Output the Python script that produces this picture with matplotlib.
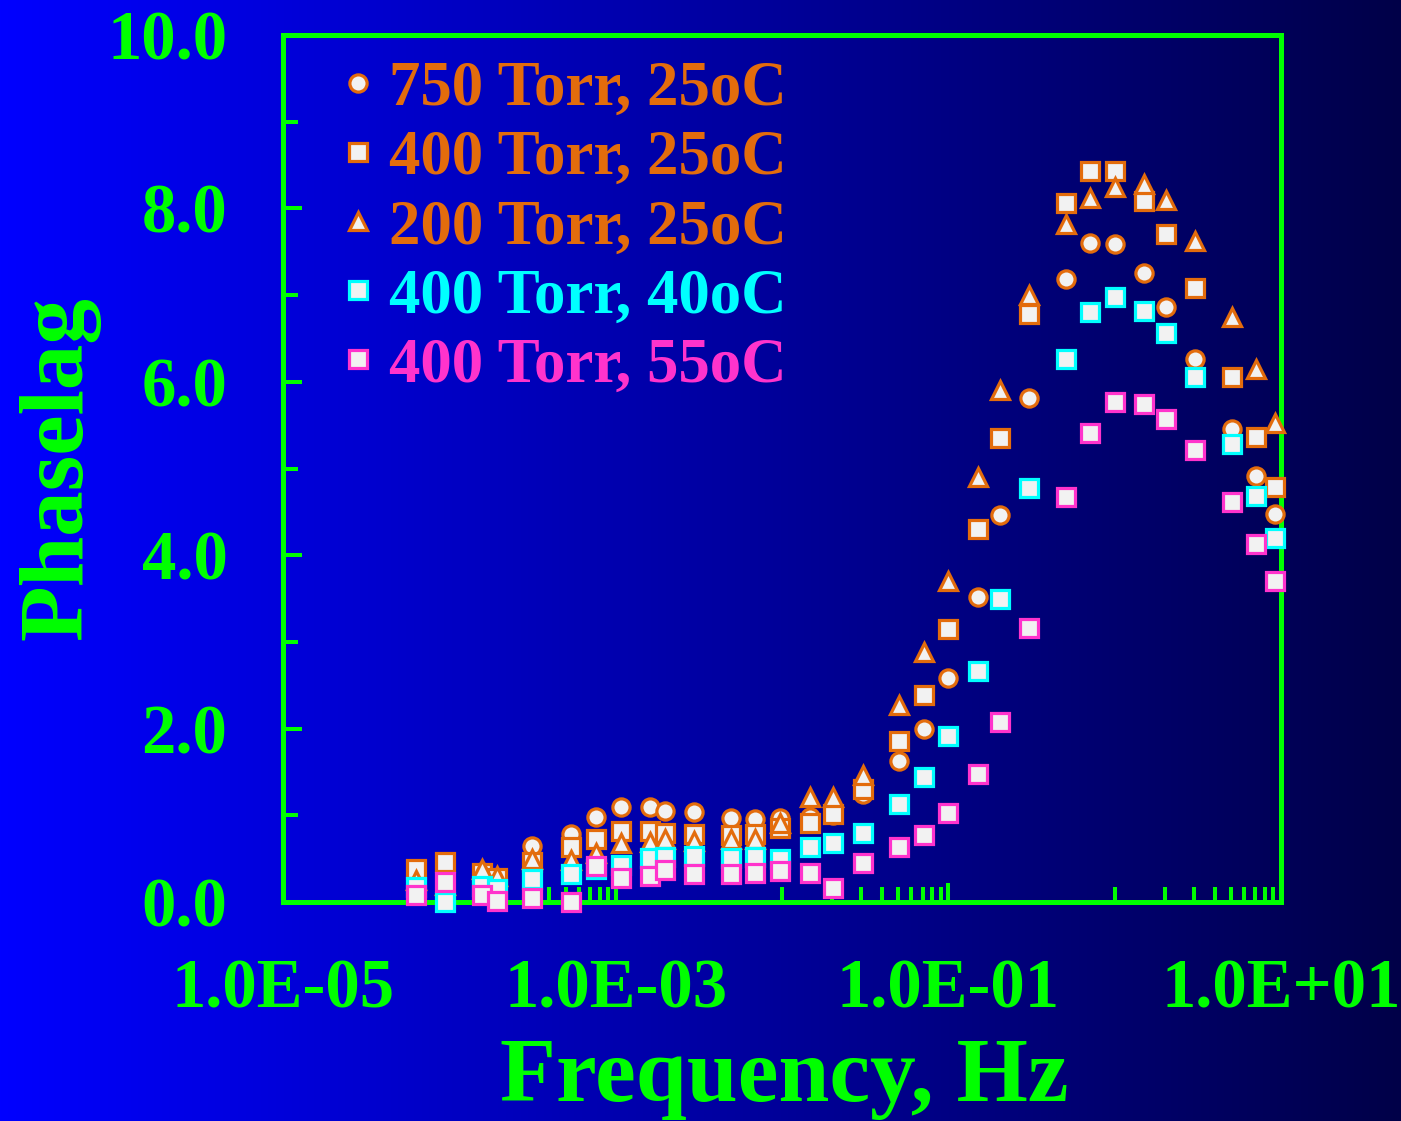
import numpy as np
import matplotlib
matplotlib.use("Agg")
import matplotlib.pyplot as plt
from matplotlib.ticker import FixedLocator, FixedFormatter, NullFormatter

# Frequency sweep (Hz)
freq_hz = [6.3e-5, 9.4e-5, 1.57e-4, 1.94e-4, 3.13e-4, 5.4e-4, 7.6e-4, 1.07e-3,
           1.61e-3, 1.98e-3, 2.96e-3, 4.93e-3, 6.9e-3, 9.7e-3, 1.47e-2, 2.03e-2,
           3.05e-2, 5.07e-2, 7.1e-2, 0.10, 0.15, 0.205, 0.305, 0.508,
           0.71, 1.0, 1.5, 2.04, 3.04, 5.08, 7.08, 9.2]

# Phase lag (degrees) for each pressure / temperature condition
phase_750_25 = [0.30, 0.25, 0.35, 0.27, 0.65, 0.79, 0.98, 1.10, 1.09, 1.05, 1.04,
                0.97, 0.96, 0.97, 0.98, 1.00, 1.24, 1.63, 2.00, 2.58, 3.52, 4.46,
                5.81, 7.18, 7.60, 7.59, 7.25, 6.86, 6.26, 5.45, 4.91, 4.48]
phase_400_25 = [0.38, 0.46, 0.33, 0.28, 0.46, 0.64, 0.73, 0.82, 0.82, 0.80, 0.79,
                0.77, 0.79, 0.85, 0.91, 1.02, 1.30, 1.86, 2.39, 3.15, 4.30, 5.35,
                6.78, 8.06, 8.43, 8.43, 8.09, 7.70, 7.08, 6.06, 5.36, 4.79]
phase_200_25 = [0.25, 0.20, 0.38, 0.30, 0.50, 0.48, 0.57, 0.68, 0.69, 0.73, 0.70,
                0.73, 0.73, 0.91, 1.21, 1.21, 1.47, 2.27, 2.88, 3.70, 4.90, 5.91,
                7.00, 7.82, 8.12, 8.25, 8.28, 8.10, 7.62, 6.75, 6.15, 5.53]
phase_400_40 = [0.17, 0.00, 0.18, 0.15, 0.27, 0.32, 0.38, 0.43, 0.51, 0.52, 0.53,
                0.51, 0.52, 0.50, 0.63, 0.68, 0.80, 1.13, 1.44, 1.91, 2.67, 3.50,
                4.77, 6.26, 6.81, 6.98, 6.82, 6.56, 6.06, 5.28, 4.68, 4.20]
phase_400_55 = [0.08, 0.23, 0.08, 0.01, 0.05, 0.00, 0.42, 0.28, 0.30, 0.37, 0.32,
                0.32, 0.33, 0.36, 0.33, 0.16, 0.45, 0.63, 0.77, 1.03, 1.48, 2.08,
                3.16, 4.67, 5.41, 5.77, 5.74, 5.57, 5.21, 4.61, 4.13, 3.70]

series_labels = ["750 Torr, 25oC", "400 Torr, 25oC", "200 Torr, 25oC",
                 "400 Torr, 40oC", "400 Torr, 55oC"]

x_major = [1e-5, 1e-3, 1e-1, 1e1]
x_major_labels = ["1.0E-05", "1.0E-03", "1.0E-01", "1.0E+01"]
y_major = [0, 2, 4, 6, 8, 10]
y_minor = [1, 3, 5, 7, 9]

GREEN = "#00FF00"
ORANGE = "#E36C0C"
CYAN = "#00FFFF"
PINK = "#FF33CC"
FACE = "#F2F2F2"

plt.rcParams["font.family"] = ["Liberation Serif", "DejaVu Serif"]
plt.rcParams["font.weight"] = "bold"

W, H = 1401, 1121
fig = plt.figure(figsize=(W / 100, H / 100), dpi=100)

# horizontal blue gradient backdrop
bg = fig.add_axes([0, 0, 1, 1], zorder=-10)
t = np.linspace(0, 1, 700)
grad = np.zeros((1, t.size, 3))
grad[..., 2] = (255 + (72 - 255) * t) / 255.0
bg.imshow(grad, aspect="auto", extent=[0, 1, 0, 1])
bg.set_axis_off()

ax = fig.add_axes([283 / W, 1 - 902 / H, 998 / W, 867 / H])
ax.set_facecolor("none")
ax.set_xscale("log")
ax.set_xlim(1e-5, 1e1)
ax.set_ylim(0, 10)

styles = [
    (phase_750_25, "o", ORANGE),
    (phase_400_25, "s", ORANGE),
    (phase_200_25, "^", ORANGE),
    (phase_400_40, "s", CYAN),
    (phase_400_55, "s", PINK),
]
handles = []
for i, (vals, mk, col) in enumerate(styles):
    ln, = ax.plot(freq_hz, vals, linestyle="none", marker=mk, markersize=12.4,
                  markerfacecolor=FACE, markeredgecolor=col, markeredgewidth=2.3,
                  clip_on=False, zorder=3 + i)
    handles.append(ln)

# axis ticks
x_minor = ([k * 1e-4 for k in range(1, 10)] + [k * 1e-2 for k in range(1, 10)]
           + [k * 1.0 for k in range(1, 10)])
ax.xaxis.set_major_locator(FixedLocator(x_major))
ax.xaxis.set_major_formatter(FixedFormatter(x_major_labels))
ax.xaxis.set_minor_locator(FixedLocator(x_minor))
ax.xaxis.set_minor_formatter(NullFormatter())
ax.yaxis.set_major_locator(FixedLocator(y_major))
ax.yaxis.set_major_formatter(FixedFormatter([f"{v:.1f}" for v in y_major]))
ax.yaxis.set_minor_locator(FixedLocator(y_minor))

ax.tick_params(which="both", direction="in", colors=GREEN, width=2.9,
               top=False, right=False, labelsize=49.5)
ax.tick_params(which="major", length=14)
ax.tick_params(which="minor", length=10.5)
ax.tick_params(axis="x", which="major", pad=41)
ax.tick_params(axis="y", which="major", pad=40)

for sp in ax.spines.values():
    sp.set_color(GREEN)
    sp.set_linewidth(3.6)

leg = ax.legend(handles, series_labels, loc="upper left",
                bbox_to_anchor=(0.059, 0.970), borderaxespad=0, borderpad=0,
                frameon=False, handlelength=0.5, handletextpad=0.25,
                labelspacing=0.176, numpoints=1,
                prop=dict(family="Liberation Serif", weight="bold", size=45.3),
                labelcolor="markeredgecolor")

fig.text(784 / W, 1 - 1101 / H, "Frequency, Hz", color=GREEN, fontsize=66,
         fontweight="bold", ha="center", va="baseline")
fig.text(81 / W, 1 - 468 / H, "Phaselag", color=GREEN, fontsize=65.5,
         fontweight="bold", rotation=90, rotation_mode="anchor",
         ha="center", va="baseline")

fig.savefig("out.png", dpi=100)
